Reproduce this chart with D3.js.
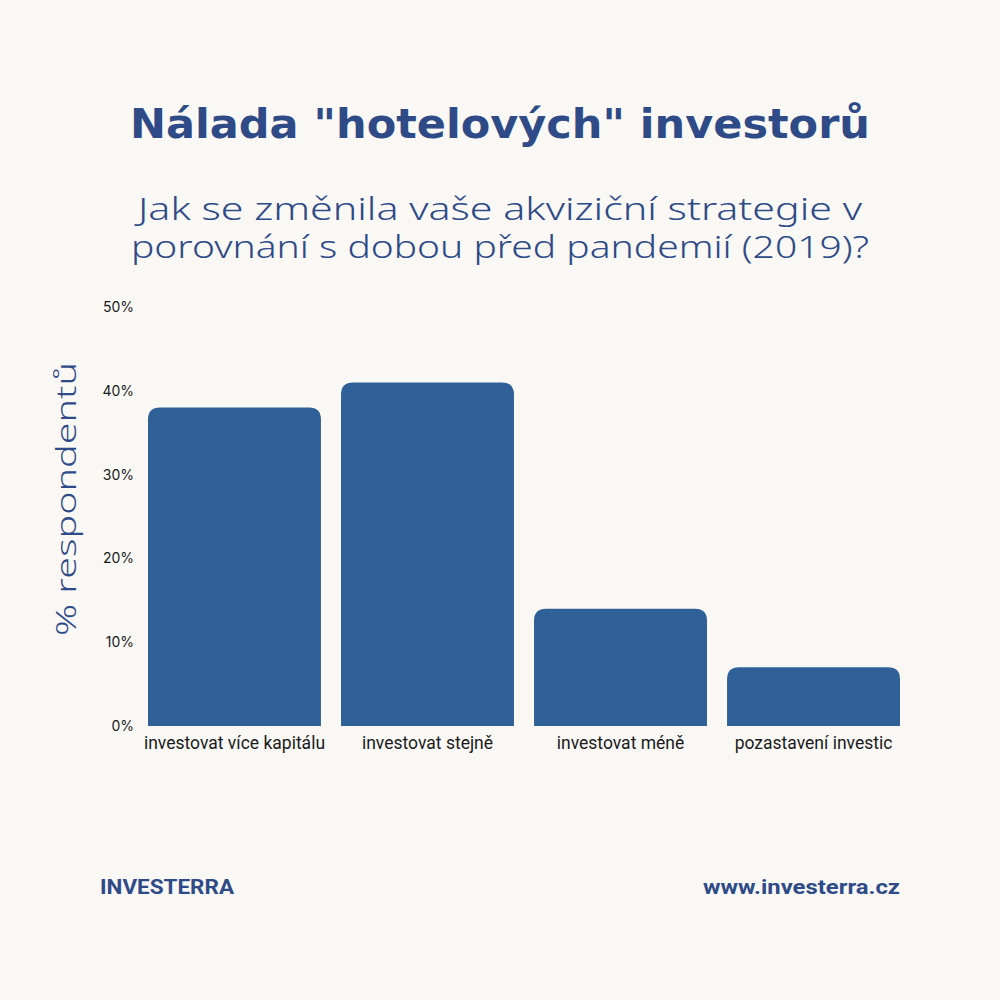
<!DOCTYPE html>
<html>
<head>
<meta charset="utf-8">
<script src="https://cdn.jsdelivr.net/npm/d3@7"></script>
<style>
  body { margin: 0; background: #f9f8f5; }
  svg { display: block; }
</style>
</head>
<body>
<script>
// data
var categories = ["investovat více kapitálu", "investovat stejně", "investovat méně", "pozastavení investic"];
var values = [38, 41, 14, 7];
var yTicks = [0, 10, 20, 30, 40, 50];

var w = 1000, h = 1000;
var blue = "#2e4a87";
var barColor = "#2f6098";

var svg = d3.select("body").append("svg")
  .attr("width", w)
  .attr("height", h);

svg.append("rect").attr("width", w).attr("height", h).attr("fill", "#f9f8f5");

// title + subtitle (wide display font, stretched to fit)
svg.append("text")
  .attr("x", 500).attr("y", 138)
  .attr("text-anchor", "middle")
  .attr("font-family", "DejaVu Sans")
  .attr("font-weight", "bold")
  .attr("font-size", 40)
  .attr("fill", blue)
  .attr("textLength", 740)
  .attr("lengthAdjust", "spacingAndGlyphs")
  .text("Nálada \"hotelových\" investorů");

var sub = ["Jak se změnila vaše akviziční strategie v", "porovnání s dobou před pandemií (2019)?"];
var subLen = [724, 738];
sub.forEach(function(s, i) {
  svg.append("text")
    .attr("x", 500).attr("y", 220 + i * 38)
    .attr("text-anchor", "middle")
    .attr("font-family", "Noto Sans")
    .attr("font-weight", 300)
    .attr("font-size", 31)
    .attr("fill", blue)
    .attr("textLength", subLen[i])
    .attr("lengthAdjust", "spacingAndGlyphs")
    .text(s);
});

var x = d3.scaleBand()
  .domain(categories)
  .range([148, 900])
  .paddingInner(0.104)
  .paddingOuter(0);

var y = d3.scaleLinear()
  .domain([0, 50])
  .range([726, 307]);

// bars with rounded top corners
var r = 12;
svg.selectAll("path.bar")
  .data(values)
  .enter().append("path")
  .attr("class", "bar")
  .attr("fill", barColor)
  .attr("d", function(d, i) {
    var x0 = x(categories[i]), x1 = x0 + x.bandwidth();
    var y0 = y(0), y1 = y(d);
    return "M" + x0 + "," + y0 +
      "V" + (y1 + r) +
      "Q" + x0 + "," + y1 + " " + (x0 + r) + "," + y1 +
      "H" + (x1 - r) +
      "Q" + x1 + "," + y1 + " " + x1 + "," + (y1 + r) +
      "V" + y0 + "Z";
  });

// y axis labels
var yAxis = d3.axisLeft(y)
  .tickValues(yTicks)
  .tickSize(0)
  .tickPadding(0)
  .tickFormat(function(d) { return d + "%"; });

var gy = svg.append("g")
  .attr("transform", "translate(134,0)")
  .call(yAxis);
gy.select(".domain").remove();
gy.selectAll("text")
  .attr("font-family", "Inter")
  .attr("font-size", 14)
  .attr("fill", "#1a1a1a");

// x axis labels
var xAxis = d3.axisBottom(x).tickSize(0).tickPadding(0);
var gx = svg.append("g")
  .attr("transform", "translate(0,737)")
  .call(xAxis);
gx.select(".domain").remove();
gx.selectAll("text")
  .attr("font-family", "Roboto")
  .attr("font-size", 17.5)
  .attr("fill", "#1a1a1a");

// y title
svg.append("text")
  .attr("transform", "translate(76,499) rotate(-90)")
  .attr("text-anchor", "middle")
  .attr("font-family", "Noto Sans")
  .attr("font-weight", 300)
  .attr("font-size", 28)
  .attr("fill", blue)
  .attr("textLength", 274)
  .attr("lengthAdjust", "spacingAndGlyphs")
  .text("% respondentů");

// footer
svg.append("text")
  .attr("x", 100).attr("y", 894)
  .attr("font-family", "Roboto")
  .attr("font-weight", "bold")
  .attr("font-size", 21)
  .attr("fill", blue)
  .attr("textLength", 134)
  .attr("lengthAdjust", "spacingAndGlyphs")
  .text("INVESTERRA");

svg.append("text")
  .attr("x", 900).attr("y", 894)
  .attr("text-anchor", "end")
  .attr("font-family", "Roboto")
  .attr("font-weight", "bold")
  .attr("font-size", 21)
  .attr("fill", blue)
  .attr("textLength", 197)
  .attr("lengthAdjust", "spacingAndGlyphs")
  .text("www.investerra.cz");
</script>
</body>
</html>
